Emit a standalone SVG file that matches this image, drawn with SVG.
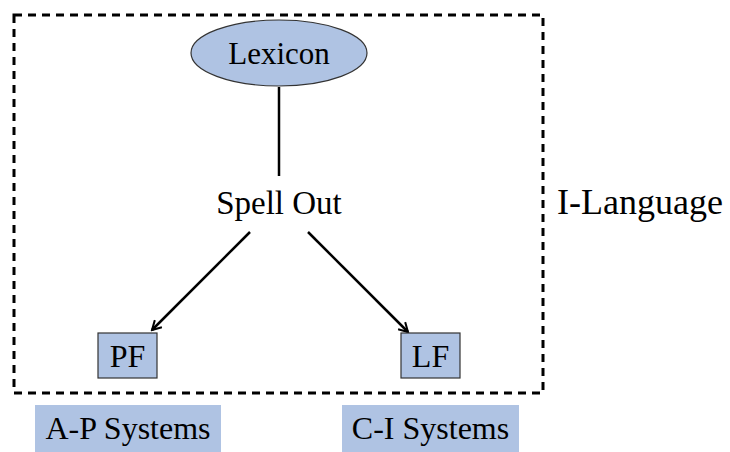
<svg xmlns="http://www.w3.org/2000/svg" width="730" height="452" viewBox="0 0 730 452">
<defs>
<marker id="ah" viewBox="0 0 12 12" refX="10" refY="6" markerWidth="12" markerHeight="12" markerUnits="userSpaceOnUse" orient="auto">
<path d="M1,1 L10,6 L1,11" fill="none" stroke="#000" stroke-width="2"/>
</marker>
</defs>
<style>
.n{fill:#afc3e3;stroke:#333;stroke-width:1.2}
.lab{fill:#afc3e3}
.c{stroke:#000;stroke-width:2.5;fill:none}
</style>
<g font-family="'Liberation Serif', 'Times New Roman', serif" text-anchor="middle" fill="#000">
<rect x="14" y="15" width="529" height="378" fill="none" stroke="#000" stroke-width="3" stroke-dasharray="8 6"/>
<text x="640" y="214" font-size="36">I-Language</text>
<g id="connectors">
<line class="c" x1="279" y1="87" x2="279" y2="176"/>
<line class="c" x1="250" y1="232" x2="152" y2="330" marker-end="url(#ah)"/>
<line class="c" x1="308" y1="232" x2="408" y2="332" marker-end="url(#ah)"/>
</g>
<g id="lexicon">
<ellipse class="n" cx="279" cy="53" rx="88" ry="33"/>
<text x="279" y="64" font-size="31">Lexicon</text>
</g>
<g id="spellout">
<text x="279" y="214" font-size="33">Spell Out</text>
</g>
<g id="pf">
<rect class="n" x="98" y="333" width="59" height="45"/>
<text x="127.5" y="367" font-size="32">PF</text>
</g>
<g id="lf">
<rect class="n" x="401" y="333" width="59" height="45"/>
<text x="430.5" y="367" font-size="32">LF</text>
</g>
<g id="ap">
<rect class="lab" x="35" y="405" width="186" height="47"/>
<text x="128" y="439" font-size="32">A-P Systems</text>
</g>
<g id="ci">
<rect class="lab" x="342" y="405" width="177" height="47"/>
<text x="430.5" y="439" font-size="32">C-I Systems</text>
</g>
</g>
</svg>
